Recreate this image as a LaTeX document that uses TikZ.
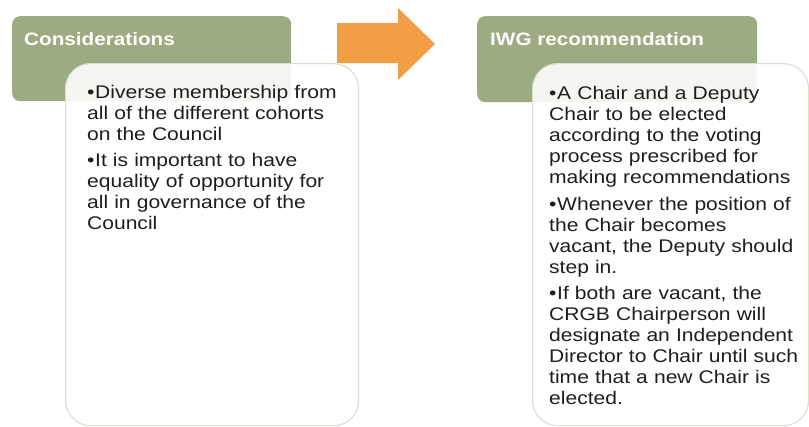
\documentclass[tikz,border=0pt]{standalone}
\usepackage{fontspec}
\setmainfont{Liberation Sans}
\newfontfamily\bodyfont[FakeStretch=1.15]{Liberation Sans}
\definecolor{sage}{RGB}{156,171,130}
\definecolor{paneledge}{RGB}{218,225,209}
\definecolor{arroworange}{RGB}{242,158,68}
\definecolor{bodyink}{RGB}{30,30,30}
\tikzset{
  headbox/.style={fill=sage, draw=none, rounded corners=8pt, anchor=north west, inner sep=0pt},
  panel/.style={fill=white, fill opacity=0.9, draw=paneledge, line width=1.2pt, rounded corners=25pt, anchor=north west, inner sep=0pt},
  headtext/.style={anchor=base west, inner sep=0pt, text=white, font=\bodyfont\fontsize{18}{21}\selectfont\bfseries},
  itemtext/.style={anchor=north west, inner sep=0pt, text=bodyink, text width=300pt, align=left,
    font=\bodyfont\fontsize{18.3}{21}\selectfont},
  bigarrow/.style={fill=arroworange, draw=none}
}
\newcommand{\itm}[1]{\hangindent=8pt\hangafter=1\makebox[8pt][l]{\textbullet}#1}
\begin{document}
\begin{tikzpicture}[x=1pt, y=-1pt]
  \useasboundingbox (0,0) rectangle (809,426);

  % left column
  \node[headbox, minimum width=279pt, minimum height=85pt] (headL) at (12,16) {};
  \node[headtext] (titleL) at (24,45) {Considerations};
  \node[panel, minimum width=293pt, minimum height=362pt] (panelL) at (65,63) {};
  \node[itemtext] (itemL1) at (87,85.3) {\itm{Diverse membership from\\all of the different cohorts\\on the Council}};
  \node[itemtext] (itemL2) at (87,153.3) {\itm{It is important to have\\equality of opportunity for\\all in governance of the\\Council}};

  % arrow between the columns
  \path[bigarrow] (337,23) coordinate (arrA) -- (398,23) -- (398,8) -- (435,44) coordinate (arrTip)
    -- (398,80) -- (398,63) -- (337,63) -- cycle;

  % right column
  \node[headbox, minimum width=280pt, minimum height=86pt] (headR) at (477,16) {};
  \node[headtext] (titleR) at (490,45) {IWG recommendation};
  \node[panel, minimum width=276pt, minimum height=362pt] (panelR) at (532,63) {};
  \node[itemtext] (itemR1) at (549,86.3) {\itm{A Chair and a Deputy\\Chair to be elected\\according to the voting\\process prescribed for\\making recommendations}};
  \node[itemtext] (itemR2) at (549,197.3) {\itm{Whenever the position of\\the Chair becomes\\vacant, the Deputy should\\step in.}};
  \node[itemtext] (itemR3) at (549,286.3) {\itm{If both are vacant, the\\CRGB Chairperson will\\designate an Independent\\Director to Chair until such\\time that a new Chair is\\elected.}};
\end{tikzpicture}
\end{document}
